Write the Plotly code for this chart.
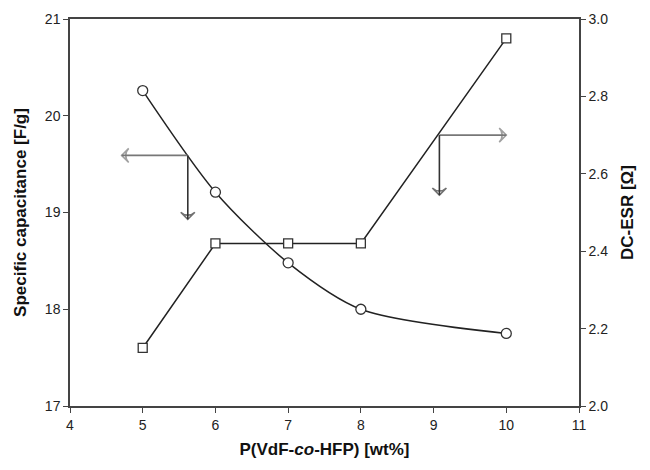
import plotly.graph_objects as go

wt = [5, 6, 7, 8, 10]
capacitance = [20.26, 19.21, 18.48, 18.0, 17.75]
esr = [2.15, 2.42, 2.42, 2.42, 2.95]

# arrow indicators: corner point then tip
cap_arrow_h_x = [5.62, 4.71]
cap_arrow_h_y = [19.59, 19.59]
cap_arrow_v_x = [5.62, 5.62]
cap_arrow_v_y = [19.59, 18.93]
esr_arrow_h_x = [9.08, 10.0]
esr_arrow_h_y = [2.70, 2.70]
esr_arrow_v_x = [9.08, 9.08]
esr_arrow_v_y = [2.70, 2.545]

x_ticks = [4, 5, 6, 7, 8, 9, 10, 11]
y1_ticks = [17, 18, 19, 20, 21]
y2_ticks = [2.0, 2.2, 2.4, 2.6, 2.8, 3.0]

fig = go.Figure()

fig.add_trace(go.Scatter(x=wt, y=capacitance, mode="lines+markers",
                         line=dict(color="#222", width=1.5, shape="spline", smoothing=0.8),
                         marker=dict(symbol="circle", size=10, color="white",
                                     line=dict(color="#333", width=1.3)),
                         yaxis="y", showlegend=False))
fig.add_trace(go.Scatter(x=wt, y=esr, mode="lines+markers",
                         line=dict(color="#222", width=1.5),
                         marker=dict(symbol="square", size=9, color="white",
                                     line=dict(color="#333", width=1.3)),
                         yaxis="y2", showlegend=False))

def arrow(xs, ys, axis, color):
    fig.add_trace(go.Scatter(x=xs, y=ys, mode="lines+markers", yaxis=axis,
                             line=dict(color=color, width=1.6),
                             marker=dict(symbol="arrow-wide-open", size=[0, 10],
                                         angleref="previous", color=color,
                                         line=dict(color=color, width=1.6)),
                             showlegend=False, hoverinfo="skip"))

arrow(cap_arrow_h_x, cap_arrow_h_y, "y", "#777")
arrow(cap_arrow_v_x, cap_arrow_v_y, "y", "#333")
arrow(esr_arrow_h_x, esr_arrow_h_y, "y2", "#777")
arrow(esr_arrow_v_x, esr_arrow_v_y, "y2", "#333")

axis_font = dict(family="Liberation Sans, Arial, sans-serif", size=14, color="#222")
title_font = dict(family="Liberation Sans, Arial, sans-serif", size=17, color="#111")

fig.update_layout(
    width=650, height=470,
    margin=dict(l=70, r=71, t=19, b=64),
    paper_bgcolor="white", plot_bgcolor="white",
    xaxis=dict(range=[4, 11], tickvals=x_ticks, ticks="outside", ticklen=5,
               tickcolor="#444", showline=True, linecolor="#444", linewidth=1.5,
               mirror=True, showgrid=False, zeroline=False, tickfont=axis_font,
               title=dict(text="<b>P(VdF-<i>co</i>-HFP) [wt%]</b>", font=title_font, standoff=12)),
    yaxis=dict(range=[17, 21], tickvals=y1_ticks, ticks="outside", ticklen=5,
               tickcolor="#444", showline=True, linecolor="#444", linewidth=1.5,
               showgrid=False, zeroline=False, tickfont=axis_font,
               title=dict(text="<b>Specific capacitance [F/g]</b>", font=title_font, standoff=14)),
    yaxis2=dict(range=[2.0, 3.0], tickvals=y2_ticks, tickformat=".1f", overlaying="y",
                side="right", ticks="outside", ticklen=5, tickcolor="#444",
                showline=True, linecolor="#444", linewidth=1.5, showgrid=False,
                zeroline=False, tickfont=axis_font,
                title=dict(text="<b>DC-ESR [Ω]</b>", font=title_font, standoff=14)),
)

fig.write_html("out.html")
